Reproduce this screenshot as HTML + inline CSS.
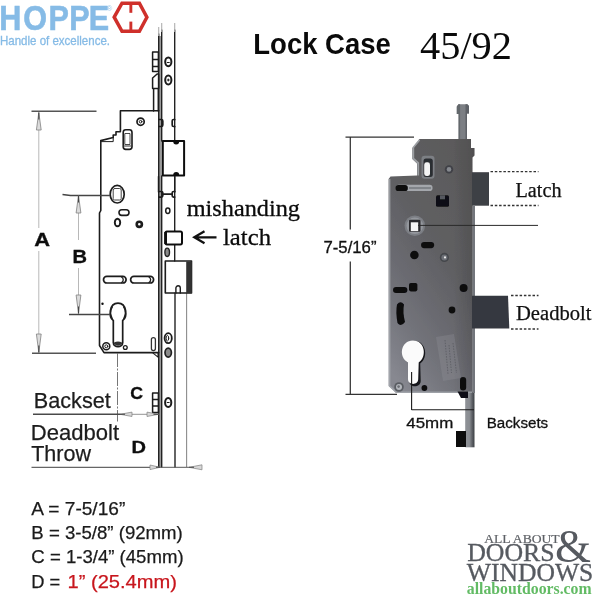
<!DOCTYPE html>
<html lang="en">
<head>
<meta charset="utf-8">
<title>HOPPE Lock Case 45/92</title>
<style>
html,body{margin:0;padding:0;background:#fff;}
body{width:600px;height:600px;overflow:hidden;position:relative;}
svg{position:absolute;left:0;top:0;display:block;}
.sans{font-family:"Liberation Sans","DejaVu Sans",sans-serif;}
.serif{font-family:"Liberation Serif","DejaVu Serif",serif;}
.hb{fill:#7db9e8;}
.ln{fill:none;stroke-linejoin:round;stroke-linecap:round;}
.lt{fill:none;}
.th{fill:none;stroke-linejoin:round;}
.dim{fill:none;}
.gl{fill:none;}
.dot{fill:none;stroke-dasharray:2.5 1.8;}
</style>
</head>
<body>
<svg width="600" height="600" viewBox="0 0 600 600">
<rect width="600" height="600" fill="#fff"/>
<g id="all" opacity="0.999">

<!-- ===== HOPPE logo ===== -->
<g id="hoppe">
<text class="sans" transform="scale(0.85,1)" x="-1.00 27.37 57.06 81.41 104.30" y="29.7" font-size="36" font-weight="bold" fill="#86bbe6" stroke="#86bbe6" stroke-width="0.6">HOPPE</text>
<text class="sans" x="106.8" y="10.800" font-size="7.500" fill="#9cc6e8">®</text>
<text class="sans" x="0" y="45.3" font-size="12.2" fill="#86bbe6" stroke="#86bbe6" stroke-width="0.3" textLength="110" lengthAdjust="spacingAndGlyphs">Handle of excellence.</text>
<polygon points="114.200,17.200 122,3.150 139.400,3.150 146.900,17.200 139.400,31.250 122,31.250" fill="#fff" stroke="#cf302b" stroke-width="3.500" stroke-linejoin="miter"/>
<rect x="129.400" y="3" width="2.900" height="9.800" fill="#cf302b"/>
<rect x="129.400" y="21.600" width="2.900" height="9.800" fill="#cf302b"/>
</g>

<!-- ===== Headings ===== -->
<text class="sans" x="253.3" y="53.7" font-size="29.5" font-weight="bold" fill="#0a0a0a" textLength="137.5" lengthAdjust="spacingAndGlyphs">Lock Case</text>
<text class="serif" x="420" y="58.5" font-size="39" fill="#0a0a0a" textLength="92" lengthAdjust="spacingAndGlyphs">45/92</text>

<!-- ===== left annotations ===== -->
<g class="serif" fill="#0a0a0a" stroke="#0a0a0a" stroke-width="0.300">
<text x="186.700" y="216" font-size="24" textLength="113.3" lengthAdjust="spacingAndGlyphs">mishanding</text>
<text x="223" y="245" font-size="24" textLength="48" lengthAdjust="spacingAndGlyphs">latch</text>
</g>
<path d="M216.500 237.300H196M204.500 231.300L194.300 237.300L204.500 243.300" fill="none" stroke="#111" stroke-width="2.300" stroke-linejoin="miter"/>

<!-- ===== right labels ===== -->
<g class="serif" fill="#111" stroke="#111" stroke-width="0.250">
<text x="515.500" y="196.500" font-size="20" textLength="46" lengthAdjust="spacingAndGlyphs">Latch</text>
<text x="516" y="320.200" font-size="20.500" textLength="75.500" lengthAdjust="spacingAndGlyphs">Deadbolt</text>
</g>
<g class="sans" fill="#111" stroke="#111" stroke-width="0.300">
<text x="323.500" y="252.800" font-size="16.400" textLength="53" lengthAdjust="spacingAndGlyphs">7-5/16”</text>
<text x="406.3" y="428" font-size="15.4" textLength="47" lengthAdjust="spacingAndGlyphs">45mm</text>
<text x="486.7" y="428" font-size="15.4" textLength="61.5" lengthAdjust="spacingAndGlyphs">Backsets</text>
</g>

<!-- ===== legend ===== -->
<g class="sans" fill="#1a1a1a" stroke="#1a1a1a" stroke-width="0.250">
<text x="31.300" y="514.700" font-size="18.600" textLength="94" lengthAdjust="spacingAndGlyphs">A = 7-5/16”</text>
<text x="31.300" y="538.700" font-size="18.600" textLength="151.500" lengthAdjust="spacingAndGlyphs">B = 3-5/8” (92mm)</text>
<text x="31.300" y="562.800" font-size="18.600" textLength="152.300" lengthAdjust="spacingAndGlyphs">C = 1-3/4” (45mm)</text>
<text x="31.300" y="587.500" font-size="18.600" textLength="29" lengthAdjust="spacingAndGlyphs">D =</text>
<text x="67.500" y="587.500" font-size="18.800" fill="#c8161d" stroke="#c8161d" textLength="109.500" lengthAdjust="spacingAndGlyphs">1” (25.4mm)</text>
</g>

<!-- ===== All About Doors & Windows logo ===== -->
<g id="aadw" class="serif">
<text x="484.200" y="542.600" font-size="13.400" fill="#5e6166" stroke="#5e6166" stroke-width="0.200" textLength="75.500" lengthAdjust="spacingAndGlyphs">ALL ABOUT</text>
<text x="467.200" y="561.200" font-size="24.800" fill="#565a60" stroke="#565a60" stroke-width="0.300" textLength="87.500" lengthAdjust="spacingAndGlyphs">DOORS</text>
<text x="555" y="562" font-size="47" fill="#565a60" textLength="36" lengthAdjust="spacingAndGlyphs">&amp;</text>
<text x="466.800" y="580.500" font-size="24.800" fill="#565a60" stroke="#565a60" stroke-width="0.300" textLength="126.500" lengthAdjust="spacingAndGlyphs">WINDOWS</text>
<text x="466.800" y="593.500" font-size="15.700" font-weight="bold" fill="#62bb64" textLength="124.800" lengthAdjust="spacingAndGlyphs">allaboutdoors.com</text>
</g>

<!--LEFT-START-->
<defs><filter id="soft2" x="-5%" y="-5%" width="110%" height="110%"><feGaussianBlur stdDeviation="0.4"/></filter></defs>
<!-- ===== LEFT line drawing ===== -->
<g id="left-diagram" filter="url(#soft2)">
<!-- faceplate strip -->
<path d="M160.200 36V467" fill="none" stroke="#9a9a9a" stroke-width="3"/>
<path class="ln" d="M158.700 34V467M161.700 30V141M161.700 176V467M174.700 30V141M174.700 176V231M174.700 245V261M175 293V467" stroke-width="1.400" stroke="#222"/>
<path class="gl" d="M186.600 293V467" stroke="#8c8c8c" stroke-width="1.100"/>
<path d="M158.700 27v9M161.700 23v9M174.700 23v9" fill="none" stroke="#b0b0b0" stroke-width="1.100"/>
<!-- top brackets -->
<path class="ln" d="M152.600 52h5.800v19.500h-5.800zM152.600 59.500h5.800M152.600 66.500h5.800" stroke="#1c1c1c" stroke-width="1.500"/>
<path class="ln" d="M152.600 78l4.500-4h1.500v14.500h-6zM153.600 88.500V111M158.300 88.500V111" stroke="#1c1c1c" stroke-width="1.500"/>
<ellipse class="ln" cx="168.300" cy="61.800" rx="3.100" ry="4.400" stroke-width="2" stroke="#1c1c1c"/>
<ellipse class="ln" cx="168.300" cy="80" rx="3.100" ry="4.400" stroke-width="2" stroke="#1c1c1c"/>
<path class="ln" d="M167.300 62.500h2M167.300 80h2M168.300 79v2" stroke-width="1" stroke="#1c1c1c"/>
<!-- body outline -->
<path class="ln" stroke-width="1.600" d="M158.700 110.800H120.400V131.800H116V135H113.200V137.500L100.800 140.600V210.500L99.500 213V345.500L104 352.600H158.700" stroke="#1c1c1c"/>
<path class="ln" stroke-width="1" d="M101 141.600H113.200V137.500" stroke="#1c1c1c"/>
<!-- notches on faceplate -->
<path class="ln" stroke-width="1.700" d="M159 119.500h2.300q1.500 0 1.500 1.500v4q0 1.500 -1.500 1.500h-2.300M174.700 119.500h-1.200q-1.300 0 -1.300 1.500v4q0 1.500 1.300 1.500h1.200M159 191.500h2.300q1.500 0 1.500 1.300v3q0 1.300 -1.500 1.300h-2.300M174.700 191.500h-1.200q-1.300 0 -1.300 1.300v3q0 1.300 1.300 1.300h1.200M162.800 194.200h9.400" stroke="#1c1c1c"/>
<!-- screw + slot top -->
<circle class="ln" cx="140.600" cy="121.700" r="3.600" stroke-width="1.700" stroke="#1c1c1c"/>
<circle class="ln" cx="140.600" cy="121.700" r="1.300" stroke-width="1" stroke="#1c1c1c"/>
<rect class="ln" x="123.200" y="129.800" width="8.800" height="19.600" rx="2.600" stroke-width="1.600" stroke="#1c1c1c"/>
<rect class="ln" x="125.200" y="133.500" width="4.800" height="11" stroke-width="0.900" stroke="#333"/>
<path class="ln" d="M123.500 146h8.200" stroke-width="1" stroke="#333"/>
<!-- latch bolt -->
<rect class="th" x="162.800" y="141.100" width="21.300" height="34.500" stroke-width="2" stroke="#111"/>
<path d="M173.200 141.600a3 3 0 0 0 6 0zM173.200 175.100a3 3 0 0 1 6 0z" fill="#111"/>
<path class="ln" d="M158.500 176.500V192M174.700 176.500V192" stroke-width="1.400" stroke="#1c1c1c"/>
<!-- spindle hub -->
<ellipse class="ln" cx="117.200" cy="194.200" rx="7" ry="8.800" stroke-width="1.700" stroke="#1c1c1c"/>
<rect class="ln" x="113.200" y="188.500" width="8" height="11.500" rx="1.500" stroke-width="1" stroke="#444"/>
<rect class="ln" x="119" y="209.800" width="10" height="5.600" rx="2.800" stroke-width="1.600" stroke="#1c1c1c"/>
<ellipse class="ln" cx="117.500" cy="222.500" rx="2.700" ry="3.800" stroke-width="1.900" stroke="#1c1c1c"/>
<circle class="ln" cx="139.300" cy="224.300" r="2.600" stroke-width="2.600" stroke="#1c1c1c"/>
<!-- faceplate small hole -->
<ellipse class="ln" cx="167.800" cy="210.800" rx="2.100" ry="2.700" stroke-width="1.500" stroke="#1c1c1c"/>
<!-- mishanding latch -->
<rect class="th" x="165.400" y="231.400" width="16.600" height="13" rx="1.600" stroke-width="2" stroke="#111"/>
<path d="M165.600 232v12" stroke="#111" stroke-width="2.800" fill="none"/>
<ellipse cx="167.200" cy="252.300" rx="2.300" ry="4.200" fill="#8a8a8a" stroke="#222" stroke-width="1.400"/>
<!-- deadbolt -->
<rect class="ln" x="165.300" y="261" width="26.200" height="32" stroke-width="1.600" stroke="#1c1c1c"/>
<rect x="186.200" y="261.400" width="5.600" height="31.800" fill="#333"/>
<path class="ln" d="M175.900 293v-5a2.200 2.200 0 0 1 4.400 0v5" stroke-width="1.400" stroke="#1c1c1c"/>
<!-- slots -->
<rect class="ln" x="103.500" y="276.400" width="22.600" height="6.600" rx="3.300" stroke-width="1.700" stroke="#1c1c1c"/>
<rect class="ln" x="130.600" y="276.400" width="23" height="6.600" rx="3.300" stroke-width="1.700" stroke="#1c1c1c"/>
<path class="ln" d="M121.600 277a3.200 3.200 0 0 1 0 5.600M149 277a3.200 3.200 0 0 1 0 5.600" stroke-width="1.300" stroke="#1c1c1c"/>
<circle cx="102.500" cy="303.700" r="1.200" fill="#111"/>
<!-- euro cylinder -->
<path class="ln" stroke-width="1.700" d="M113.300 320.500C108.500 317.500 108.800 303.200 118 303.200C127.200 303.200 127.500 317.500 122.700 320.500V342.500C122.700 348 113.300 348 113.300 342.500Z" stroke="#1c1c1c"/>
<path class="ln" stroke-width="1.200" d="M112.400 307c-2 3-2 8 0 12M123.600 307c2 3 2 8 0 12" stroke="#1c1c1c"/>
<path d="M114 342.500q4 -2 8 0v1.500q-4 3.500 -8 0z" fill="#333"/>
<circle class="ln" cx="106.300" cy="346.300" r="3.500" stroke-width="1.500" stroke="#1c1c1c"/>
<circle class="ln" cx="106.300" cy="346.300" r="1.500" stroke-width="1" stroke="#1c1c1c"/>
<circle class="ln" cx="125.300" cy="347.500" r="1.900" stroke-width="1.300" stroke="#1c1c1c"/>
<rect class="ln" x="151.400" y="337.600" width="4" height="13" rx="2" stroke-width="1.300" stroke="#333"/>
<path class="ln" d="M152.500 352.600l5.500 4.500v-4.500" stroke-width="1.100" stroke="#1c1c1c"/>
<ellipse class="ln" cx="168.200" cy="338.200" rx="3.600" ry="5" stroke-width="1.800" stroke="#1c1c1c"/>
<ellipse class="ln" cx="167.400" cy="338.200" rx="1.300" ry="2.800" stroke-width="1" stroke="#1c1c1c"/>
<ellipse cx="168.200" cy="352.600" rx="3.200" ry="4.500" fill="#8a8a8a" stroke="#222" stroke-width="1.700"/>
<!-- lower bracket -->
<path class="ln" d="M152.600 393h5.800v19.500h-5.800zM152.600 399.500h5.800M152.600 406h5.800" stroke="#1c1c1c" stroke-width="1.500"/>
<ellipse class="ln" cx="168.200" cy="402.500" rx="3.100" ry="4.600" stroke-width="2" stroke="#1c1c1c"/>
<path class="ln" d="M167.200 402.500h2" stroke-width="1" stroke="#1c1c1c"/>

<!-- dimension A -->
<path class="dim" stroke="#555" stroke-width="1.5" d="M31.500 111.300H96.500M32 353.300H96"/>
<path class="gl" stroke="#b8b8b8" d="M38.800 130V228M38.800 251V334" stroke-width="1"/>
<path d="M38.800 112.500L36.400 130h4.800zM38.800 352.500L36.400 334h4.800z" fill="#dcdcdc" stroke="#808080" stroke-width="0.8"/>
<path d="M38.800 112.500v7M38.800 352.500v-7" stroke="#444" stroke-width="1.1"/>
<!-- dimension B -->
<path class="dim" stroke="#444" stroke-width="1.300" d="M62.500 194.500l8 1H110M69 314.500H110"/>
<path class="gl" stroke="#b8b8b8" d="M78.500 213V240M78.500 268V295" stroke-width="1"/>
<path d="M78.500 195.500L76.100 213h4.800zM78.500 313.500L76.100 295h4.800z" fill="#dcdcdc" stroke="#808080" stroke-width="0.8"/>
<path d="M78.500 195.500v7M78.500 313.500v-7" stroke="#444" stroke-width="1.1"/>
<text class="sans" x="34.3" y="245.6" font-size="17.500" font-weight="bold" fill="#111" textLength="15.8" lengthAdjust="spacingAndGlyphs" stroke="#111" stroke-width="0.3">A</text>
<text class="sans" x="72.4" y="262.6" font-size="17.500" font-weight="bold" fill="#111" textLength="14.5" lengthAdjust="spacingAndGlyphs" stroke="#111" stroke-width="0.3">B</text>
<!-- dimension C / D -->
<path d="M117.500 353V421.500" stroke="#666" stroke-width="0.9" fill="none" stroke-dasharray="14 1.5 2 1.5"/>
<text class="sans" x="33.800" y="407.700" font-size="21.800" fill="#1c1c1c" stroke="#1c1c1c" stroke-width="0.250" textLength="77" lengthAdjust="spacingAndGlyphs">Backset</text>
<path class="dim" stroke="#4a4a4a" stroke-width="1.400" d="M33 414.300H120"/><path class="dim" stroke="#888" stroke-width="0.900" d="M120 414.300H158.500"/>
<path d="M120 414.300l12-2.200v4.400zM158.500 414.300l-11.500-2.200v4.400z" fill="#d8d8d8" stroke="#808080" stroke-width="0.7"/><path d="M120 414.300h5M158.500 414.300h-5" stroke="#444" stroke-width="1.1"/>
<text class="sans" x="130.2" y="399.4" font-size="16.500" font-weight="bold" fill="#111" textLength="12.8" lengthAdjust="spacingAndGlyphs" stroke="#111" stroke-width="0.3">C</text>
<text class="sans" x="30.800" y="440" font-size="21.500" fill="#1c1c1c" stroke="#1c1c1c" stroke-width="0.250" textLength="88.3" lengthAdjust="spacingAndGlyphs">Deadbolt</text>
<text class="sans" x="31.200" y="461" font-size="21.500" fill="#1c1c1c" stroke="#1c1c1c" stroke-width="0.250" textLength="59.8" lengthAdjust="spacingAndGlyphs">Throw</text>
<path class="dim" stroke="#666" stroke-width="1.2" d="M31.500 467.300H158.500"/>
<path d="M160 467.300l-10-2.300v4.600zM189 467.300l13-2.500v5z" fill="#d8d8d8" stroke="#808080" stroke-width="0.700"/><path d="M160 467.300h-4M189 467.300h5" stroke="#444" stroke-width="1.1"/>
<path d="M158 467.300h31" stroke="#555" stroke-width="1"/>
<text class="sans" x="131.5" y="452.5" font-size="16.500" font-weight="bold" fill="#111" textLength="14.5" lengthAdjust="spacingAndGlyphs" stroke="#111" stroke-width="0.3">D</text>
</g>
<!--LEFT-END-->
<!--RIGHT-START-->
<!-- ===== RIGHT photo-like lock case ===== -->
<defs>
<linearGradient id="gBody" x1="0.7" y1="0" x2="0.2" y2="1">
<stop offset="0" stop-color="#5b5a5b"/>
<stop offset="0.38" stop-color="#5f5f62"/>
<stop offset="0.6" stop-color="#69696f"/>
<stop offset="0.78" stop-color="#73747b"/>
<stop offset="0.92" stop-color="#7f8088"/>
<stop offset="1" stop-color="#878890"/>
</linearGradient>
<linearGradient id="gRight" x1="0" y1="0" x2="1" y2="0">
<stop offset="0" stop-color="#000" stop-opacity="0"/>
<stop offset="0.75" stop-color="#000" stop-opacity="0"/>
<stop offset="1" stop-color="#000" stop-opacity="0.12"/>
</linearGradient>
<linearGradient id="gRod" x1="0" y1="0" x2="1" y2="0">
<stop offset="0" stop-color="#8f9297"/>
<stop offset="0.45" stop-color="#8a8d92"/>
<stop offset="0.8" stop-color="#55585d"/>
<stop offset="1" stop-color="#3c3f44"/>
</linearGradient>
<filter id="soft" x="-5%" y="-5%" width="110%" height="110%"><feGaussianBlur stdDeviation="0.55"/></filter>
</defs>
<g id="right-photo">
<g filter="url(#soft)">
<!-- top rod -->
<path d="M458.600 139V114H456.800V106.500L458.500 104.200H467.300L469 106V113.500H467V139Z" fill="#7c7f84"/>
<path d="M458.600 139V114H456.800V106.500L458.500 104.200h1.600V139Z" fill="#64676c"/>
<path d="M465.500 139V104.200h1.800L469 106V113.500H467V139Z" fill="#5f6267"/>
<!-- lower rod -->
<rect x="465.200" y="392" width="9.300" height="55.300" fill="url(#gRod)"/>
<rect x="472.300" y="206" width="2.700" height="187" fill="#73767b"/>
<!-- body -->
<path id="bodyshape" d="M419.500 139H471V148H474.500V155.500L472.500 157.500V393H396L388.600 386V179L390.500 176.600L417 175.500V163.500L412.300 159V148Z" fill="url(#gBody)"/>
<path d="M419.500 139H471V148H474.500V155.500L472.500 157.500V393H396L388.600 386V179L390.500 176.600L417 175.500V163.500L412.300 159V148Z" fill="url(#gRight)"/>
<!-- highlights on edges -->
<path d="M389.600 179V386L396.500 392.300H472" fill="none" stroke="#a9adb3" stroke-width="1.600" opacity="0.75"/>
<path d="M419.500 140L413.300 147.500V158.500L418.200 163V175.500" fill="none" stroke="#a6a9ae" stroke-width="1.800" opacity="0.85"/>
<!-- latch -->
<rect x="472" y="172.200" width="17" height="33.500" fill="#3d3f44"/>
<!-- deadbolt -->
<path d="M472 295.800H508L509.300 328.600H472Z" fill="#36383f"/>
<!-- top slot -->
<rect x="421.500" y="155.800" width="13" height="23" rx="3" fill="#7c7f84"/><rect x="423.500" y="158.500" width="9.300" height="18.500" rx="2.500" fill="#2c2d31"/>
<rect x="424.200" y="162.300" width="5.800" height="13.800" rx="2.400" fill="#f4f4f4"/>
<!-- screw top -->
<circle cx="449" cy="169.400" r="4.200" fill="#3f4146"/>
<circle cx="449" cy="169.400" r="2.300" fill="#85888e"/>
<!-- horizontal slot -->
<rect x="396" y="184.800" width="36.500" height="6.200" rx="2.800" fill="#a4a7ac"/><path d="M409 188h22" stroke="#6a6d72" stroke-width="1.2" fill="none"/>
<rect x="395.600" y="185" width="12.200" height="6" rx="2.600" fill="#0c0c0e"/>
<!-- square hole -->
<rect x="436" y="195.300" width="13" height="11.500" rx="1.500" fill="#101012"/>
<rect x="440" y="195.300" width="5" height="4" fill="#55585e"/>
<!-- spindle -->
<circle cx="414.800" cy="225.800" r="10.300" fill="#7b7e84"/>
<circle cx="414.800" cy="225.800" r="8.300" fill="#94979d"/>
<rect x="409" y="219.800" width="11.500" height="12" rx="1" fill="#2a2a2e"/>
<rect x="410.800" y="222.300" width="7.400" height="8.800" fill="#f6f6f6"/>
<!-- oval slot -->
<rect x="421" y="242" width="13.200" height="6.200" rx="3.100" fill="#0d0d10"/>
<circle cx="414.400" cy="255" r="4.300" fill="#0d0d10"/>
<circle cx="444.400" cy="257.400" r="4.600" fill="#44474c"/>
<circle cx="444.400" cy="257.400" r="3" fill="#6d7077"/>
<circle cx="445" cy="257.400" r="1.100" fill="#e8e8e8"/>
<circle cx="463.600" cy="288" r="4" fill="#0d0d10"/>
<rect x="409" y="283" width="8.400" height="8.400" rx="1.800" fill="#0d0d10"/>
<rect x="393" y="287" width="14.400" height="6" rx="3" fill="#0d0d10"/>
<path d="M397 304.500Q400.500 300 404 304.500Q402.500 312 405 322Q401 327.500 397.500 323Q395.500 312 397 304.500Z" fill="#0b0b0e"/>
<circle cx="452" cy="310" r="3.400" fill="#0d0d10"/>
<!-- label sticker -->
<path d="M436 337L454 334L461 378L443 381Z" fill="#9a9da4" opacity="0.25"/>
<path d="M445 340l3 34M449 345l2.500 28M453 343l3.500 30" stroke="#4a4c52" stroke-width="0.900" fill="none" opacity="0.600" stroke-dasharray="1.500 1.200"/>
<!-- euro cylinder cutout -->
<path transform="translate(0.700,0)" d="M409 363.500C398.500 358 401 340.800 413.300 340.800C425.600 340.800 428 358 419.500 363.500L420 381C420 388 408.500 388 408.500 381Z" fill="#17181b"/>
<path transform="translate(0.700,0)" d="M407.300 362.500C397.300 357 400 340.500 412.300 340.500C424.500 340.500 426.500 357 418 362.500L417.500 379C417.500 385.500 407.300 385.500 407.300 379Z" fill="#fbfbfb"/>
<!-- bottom screw etc -->
<circle cx="399" cy="387" r="4.800" fill="#5a5d63"/>
<circle cx="399" cy="387" r="3" fill="#b3b6bb"/>
<circle cx="398.600" cy="386.600" r="1.300" fill="#6c6f75"/>
<circle cx="424.400" cy="388" r="2.900" fill="#0d0d10"/>
<rect x="460" y="377" width="6.200" height="13.500" rx="3" fill="#0d0d10"/>
<path d="M457.500 391.500H468V398H461Z" fill="#101013"/>
<rect x="456" y="431" width="10" height="16" fill="#0e0e11"/>
</g>
<!-- dimension lines -->
<path d="M345.500 137H414M350.300 137V229.500M350.300 261.500V394M345.500 394.300H397" fill="none" stroke="#333" stroke-width="1.250"/>
<path d="M418 225.400H538" fill="none" stroke="#2a2a2a" stroke-width="1"/>
<path d="M411.600 372V410M411.600 409.700H474" fill="none" stroke="#1a1a1a" stroke-width="1.100"/>
<path class="dot" d="M490.500 171.600H538.500M490.500 205.500H538.500M511 295.500H538.500M511 329H538.500" stroke="#333" stroke-width="1.3"/>
</g>
<!--RIGHT-END-->
</g>
</svg>
</body>
</html>
